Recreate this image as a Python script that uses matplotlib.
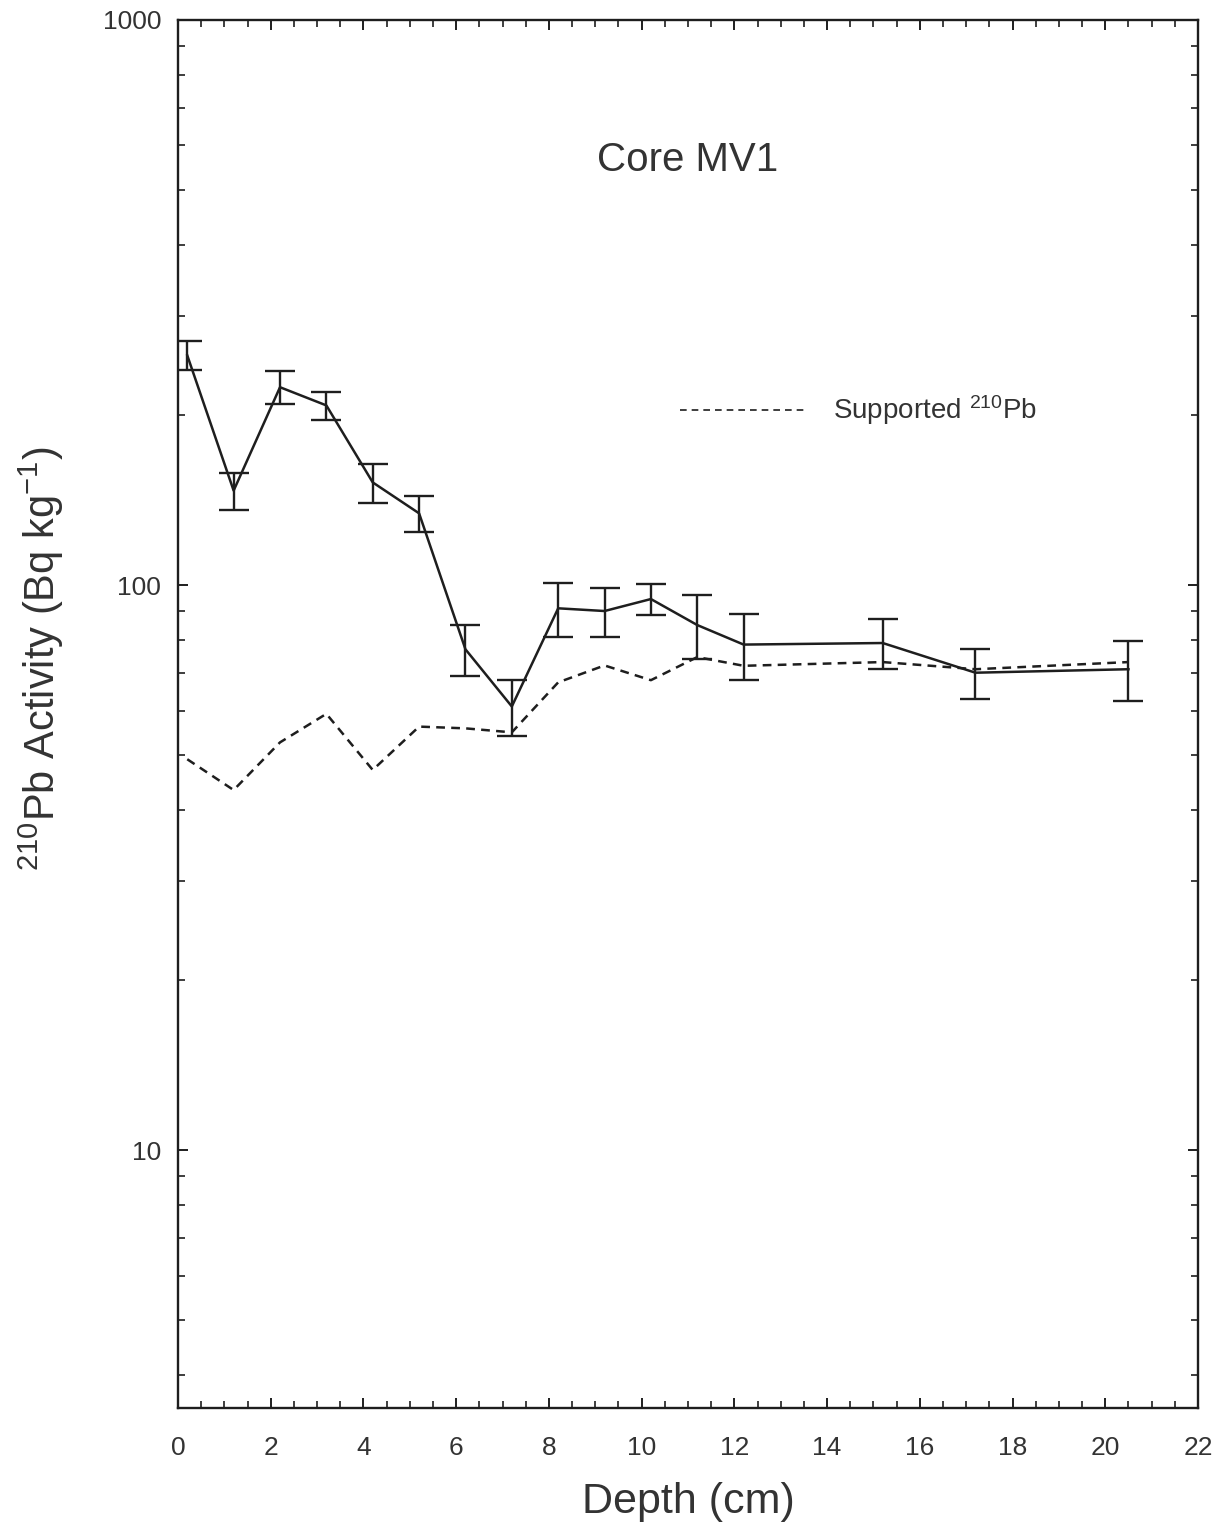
import matplotlib
matplotlib.use("Agg")
import matplotlib.pyplot as plt
from matplotlib.ticker import MultipleLocator, LogLocator, NullFormatter, FixedLocator, FixedFormatter

plt.rcParams["font.family"] = ["Liberation Sans", "DejaVu Sans"]
plt.rcParams["mathtext.fontset"] = "custom"
plt.rcParams["mathtext.rm"] = "Liberation Sans"
plt.rcParams["mathtext.it"] = "Liberation Sans"
plt.rcParams["mathtext.default"] = "regular"

# Total 210Pb activity profile with counting uncertainties
depth = [0.2, 1.2, 2.2, 3.2, 4.2, 5.2, 6.2, 7.2, 8.2, 9.2, 10.2, 11.2, 12.2, 15.2, 17.2, 20.5]
total_pb = [255, 147, 224, 208, 152, 134, 77, 61, 91, 90, 94.5, 85, 78.5, 79, 70, 71]
total_err = [15, 11, 15, 12, 12, 10, 8, 7, 10, 9, 6, 11, 10.5, 8, 7, 8.5]

# Supported 210Pb (from 226Ra)
supported_pb = [49.2, 43.4, 52.7, 59.2, 47.1, 56.2, 55.8, 54.9, 67.3, 72.1, 67.9, 74.6, 72.0, 73.1, 71.0, 73.1]

x_ticks = [0, 2, 4, 6, 8, 10, 12, 14, 16, 18, 20, 22]
y_ticks = [10, 100, 1000]
y_tick_labels = ["10", "100", "1000"]

fig = plt.figure(figsize=(12.18, 15.33), dpi=100)
ax = fig.add_axes([178 / 1218, 1 - 1408 / 1533, 1020 / 1218, 1388 / 1533])

ink = "#1e1e1e"
text_col = "#333333"
ax.errorbar(depth, total_pb, yerr=total_err, color=ink, lw=1.8,
            elinewidth=1.7, capsize=11, capthick=1.7)
ax.plot(depth, supported_pb, color=ink, lw=1.8, ls=(0, (3.5, 2.5)))

ax.set_yscale("log")
ax.set_xlim(0, 22)
ax.set_ylim(3.5, 1000)

ax.xaxis.set_major_locator(FixedLocator(x_ticks))
ax.xaxis.set_minor_locator(MultipleLocator(0.5))
ax.yaxis.set_major_locator(FixedLocator(y_ticks))
ax.yaxis.set_major_formatter(FixedFormatter(y_tick_labels))
ax.yaxis.set_minor_locator(LogLocator(base=10, subs=range(2, 10)))
ax.yaxis.set_minor_formatter(NullFormatter())

ax.tick_params(which="both", direction="in", top=True, right=True, color=ink)
ax.tick_params(which="major", length=7, width=1.4, labelsize=19, labelcolor=text_col)
ax.tick_params(which="minor", length=5, width=1.2)
ax.tick_params(axis="x", which="major", pad=20)
ax.tick_params(axis="y", which="major", pad=12)

for sp in ax.spines.values():
    sp.set_linewidth(1.7)
    sp.set_color(ink)

ax.set_xlabel("Depth (cm)", fontsize=31, color=text_col, labelpad=16)
ax.set_ylabel(r"$^{210}$Pb Activity (Bq kg$^{-1}$)", fontsize=30, color=text_col)
ax.yaxis.set_label_coords(-0.11, 0.54)

ax.text(0.5, 0.899, "Core MV1", transform=ax.transAxes, fontsize=29,
        color=text_col, ha="center", va="center")

# Legend key for the supported activity curve
ax.plot([0.492, 0.618], [0.719, 0.719], transform=ax.transAxes,
        color=ink, lw=1.2, ls=(0, (4, 3)))
ax.text(0.642, 0.719, r"Supported $^{210}$Pb", transform=ax.transAxes,
        fontsize=20, color=text_col, ha="left", va="center")

fig.savefig("out.png", dpi=100, facecolor="white")
